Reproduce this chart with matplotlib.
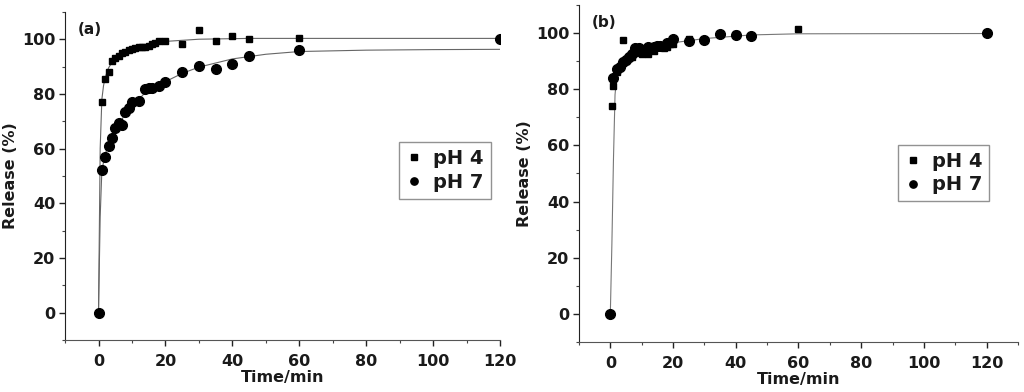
import matplotlib.pyplot as plt
from matplotlib.ticker import MultipleLocator

# ---- panel (a) ----
a_t4 = [1, 2, 3, 4, 5, 6, 7, 8, 9, 10, 11, 12, 13, 14, 15, 16, 17, 18, 20, 25, 30, 35, 40, 45, 60]
a_r4 = [77, 85.5, 88, 92, 93, 94, 95, 95.5, 96, 96.5, 96.8, 97, 97, 97.2, 97.5, 98.2, 98.5, 99.2, 99.3,
        98.3, 103.2, 99.3, 101.3, 100, 100.3]
a_t7 = [0, 1, 2, 3, 4, 5, 6, 7, 8, 9, 10, 12, 14, 15, 16, 18, 20, 25, 30, 35, 40, 45, 60, 120]
a_r7 = [0, 52, 57, 61, 64, 67.5, 69.5, 68.5, 73.3, 75, 77, 77.5, 81.8, 82, 82.3, 83, 84.3, 88, 90.3,
        89.2, 91, 94, 96.2, 100]
# fitted curves
a_fit4_t = [0, 0.5, 1, 1.5, 2, 3, 4, 5, 7, 10, 15, 20, 30, 45, 60, 120]
a_fit4_r = [0, 60, 78, 83, 86, 89.5, 91.5, 93, 95, 96.6, 98.2, 99.2, 100, 100.3, 100.3, 100.3]
a_fit7_t = [0, 0.5, 1, 2, 3, 4, 6, 8, 10, 14, 20, 25, 30, 40, 50, 60, 80, 100, 120]
a_fit7_r = [0, 35, 52, 58, 61.5, 64.5, 69, 72.5, 75.5, 80.5, 84.5, 87.5, 89.8, 92.8, 94.5, 95.5, 96, 96.2, 96.3]

# ---- panel (b) ----
b_t4 = [0.5, 1, 2, 4, 5, 6, 7, 8, 9, 10, 11, 12, 13, 14, 15, 16, 17, 18, 19, 20, 25, 30, 35, 40, 45, 60]
b_r4 = [74, 81, 86, 97.5, 90, 91, 91.5, 93, 94, 92.5, 93, 92.5, 94, 93.5, 95, 95, 94.5, 95, 96, 96,
        98, 97.5, 99.5, 99.5, 99, 101.5]
b_t7 = [0, 1, 2, 3, 4, 5, 6, 7, 8, 9, 10, 12, 14, 15, 16, 18, 20, 25, 30, 35, 40, 45, 120]
b_r7 = [0, 84, 87, 88, 89.5, 90.5, 91.5, 92.5, 94.5, 94.5, 93.5, 95, 95, 95.3, 95.5, 96.5, 98, 97,
        97.5, 99.5, 99.3, 99, 100]
b_fit_t = [0, 0.5, 1, 1.5, 2, 3, 5, 7, 10, 15, 20, 30, 45, 60, 120]
b_fit_r = [0, 25, 55, 78, 84, 87.5, 90, 91.8, 93.5, 95.2, 96.5, 98, 99.3, 99.7, 99.8]

xticks = [0, 20, 40, 60, 80, 100, 120]
yticks = [0, 20, 40, 60, 80, 100]
txt = '#1a1a1a'

fig = plt.figure(figsize=(10.24, 3.92), dpi=100)
ax1 = fig.add_axes([0.0635, 0.1327, 0.425, 0.837])
ax2 = fig.add_axes([0.5654, 0.1276, 0.4287, 0.86])


def style(ax, xmax, lab):
    ax.set_xlim(-10, xmax)
    ax.set_ylim(-10, 110)
    ax.set_xticks(xticks)
    ax.set_yticks(yticks)
    ax.xaxis.set_minor_locator(MultipleLocator(10))
    ax.yaxis.set_minor_locator(MultipleLocator(10))
    for s in ['top', 'right']:
        ax.spines[s].set_visible(False)
    ax.spines['left'].set_color('#222222')
    ax.spines['bottom'].set_color('#555555')
    ax.tick_params(which='major', direction='out', length=4, width=1, colors='#222222',
                   labelsize=11.5, labelcolor=txt, pad=3)
    ax.tick_params(axis='x', which='major', pad=6)
    ax.tick_params(which='minor', direction='out', length=2.5, width=0.8, colors='#444444')
    for t in ax.get_xticklabels() + ax.get_yticklabels():
        t.set_fontweight('bold')
    ax.set_xlabel('Time/min', fontsize=11.5, fontweight='bold', color=txt, labelpad=1)
    ax.set_ylabel('Release (%)', fontsize=11.5, fontweight='bold', color=txt, labelpad=3)
    ax.text(0.03, 0.97, lab, transform=ax.transAxes, fontsize=11, fontweight='bold',
            color=txt, va='top', ha='left')


# panel (a)
ax1.plot(a_fit4_t, a_fit4_r, color='#666666', lw=0.8)
ax1.plot(a_fit7_t, a_fit7_r, color='#666666', lw=0.8)
ax1.plot(a_t4, a_r4, 's', color='black', ms=5, label='pH 4')
ax1.plot(a_t7, a_r7, 'o', color='black', ms=7, label='pH 7')
style(ax1, 120, '(a)')

# panel (b)
ax2.plot(b_fit_t, b_fit_r, color='#777777', lw=0.8)
ax2.plot(b_t4, b_r4, 's', color='black', ms=5, label='pH 4')
ax2.plot(b_t7, b_r7, 'o', color='black', ms=7, label='pH 7')
style(ax2, 130, '(b)')

# legend boxes: (a) x 395-492, y 143-200 ; (b) x 893-990, y 152-209
for ax, anchor in [(ax1, (0.978, 0.603)), (ax2, (0.935, 0.585))]:
    leg = ax.legend(loc='upper right', bbox_to_anchor=anchor, frameon=True, fancybox=False,
                    prop={'weight': 'bold', 'size': 14}, handlelength=0.8, handletextpad=0.6,
                    borderpad=0.35, labelspacing=0.25, markerscale=0.75, borderaxespad=0)
    leg.get_frame().set_edgecolor('#777777')
    leg.get_frame().set_linewidth(1)
    for t in leg.get_texts():
        t.set_color(txt)

fig.savefig('out.png', dpi=100)
